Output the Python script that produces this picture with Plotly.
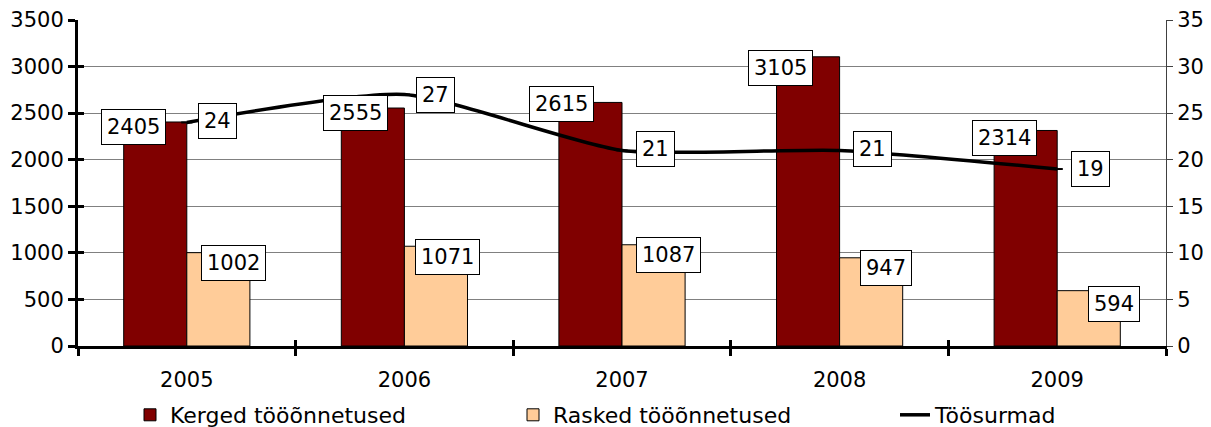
import plotly.graph_objects as go

years = ["2005", "2006", "2007", "2008", "2009"]
kerged = [2405, 2555, 2615, 3105, 2314]
rasked = [1002, 1071, 1087, 947, 594]
surmad = [24, 27, 21, 21, 19]

names = ["Kerged tööõnnetused", "Rasked tööõnnetused", "Töösurmad"]

FONT = "DejaVu Sans"
FS = 21

idx = list(range(len(years)))
bounds = [i - 0.5 for i in idx] + [idx[-1] + 0.5]

# label offsets (pixels, relative to category centre / value)
k_off = [(-53, -5), (-49, -5), (-61, -2), (-59, -11), (-53, -8)]
r_off = [(47, -10), (43, -11), (46, -10), (46, -10), (57, -13)]
s_off = [(31, 1), (31, 0), (33, 1), (33, 1), (33, 0)]

# page has an 8px body margin: figure is sized to fill the rest of the window
W, H = 1203, 419
OFF = 8

fig = go.Figure()
fig.add_trace(go.Bar(x=idx, y=kerged, name=names[0], legend="legend",
                     marker=dict(color="#800000", line=dict(color="black", width=1))))
fig.add_trace(go.Bar(x=idx, y=rasked, name=names[1], legend="legend2",
                     marker=dict(color="#FFCC99", line=dict(color="black", width=1))))
fig.add_trace(go.Scatter(x=idx, y=surmad, name=names[2], yaxis="y2", legend="legend3",
                         mode="lines+markers",
                         line=dict(color="black", width=3.5, shape="spline", smoothing=0.6),
                         marker=dict(symbol="line-ew", size=8, line=dict(color="black", width=2))))
# empty helper trace so the inner tick-mark axes are drawn
fig.add_trace(go.Scatter(x=[], y=[], xaxis="x2", yaxis="y3", showlegend=False, hoverinfo="skip"))

anns = []
def box(x, y, text, dx, dy, yref):
    anns.append(dict(x=x, y=y, xref="x", yref=yref, text=text, showarrow=False,
                     xshift=dx, yshift=dy, xanchor="center", yanchor="middle",
                     bgcolor="white", bordercolor="black", borderwidth=1, borderpad=5,
                     font=dict(family=FONT, size=FS, color="black")))

for i in idx:
    box(i, kerged[i], str(kerged[i]), k_off[i][0], k_off[i][1], "y")
    box(i, rasked[i], str(rasked[i]), r_off[i][0], r_off[i][1], "y")
    box(i, surmad[i], str(surmad[i]), s_off[i][0], s_off[i][1], "y2")

def leg(xpx):
    return dict(orientation="h", x=(xpx - 78) / 1088, xanchor="left",
                y=1 - (415 - OFF) / H, yref="container", yanchor="middle",
                font=dict(family=FONT, size=22, color="black"),
                bgcolor="rgba(0,0,0,0)", borderwidth=0)

fig.update_layout(
    width=W, height=H,
    margin=dict(l=78 - OFF, r=45, t=20 - OFF, b=81, autoexpand=False),
    paper_bgcolor="white", plot_bgcolor="white",
    font=dict(family=FONT, size=FS, color="black"),
    barmode="group", bargap=0.42, bargroupgap=0,
    annotations=anns,
    showlegend=True,
    legend=leg(130), legend2=leg(513), legend3=leg(895),
    xaxis=dict(range=[-0.5, 4.5], tickmode="array", tickvals=idx, ticktext=years,
               showline=True, linecolor="black", linewidth=3,
               ticks="outside", ticklen=13, tickcolor="rgba(0,0,0,0)",
               minor=dict(tickmode="array", tickvals=bounds,
                          ticks="outside", ticklen=7, tickwidth=3, tickcolor="black", showgrid=False),
               showgrid=False, zeroline=False, automargin=False, tickfont=dict(size=FS)),
    xaxis2=dict(range=[-0.5, 4.5], overlaying="x", anchor="y", side="bottom",
                tickmode="array", tickvals=bounds, ticks="inside", ticklen=6, tickwidth=3,
                tickcolor="black", showticklabels=False, showline=False, showgrid=False,
                zeroline=False, automargin=False),
    yaxis=dict(range=[0, 3500], dtick=500, showline=True, linecolor="black", linewidth=3,
               ticks="outside", ticklen=7, tickwidth=3, tickcolor="black",
               showgrid=True, gridcolor="#808080", gridwidth=1, zeroline=False,
               automargin=False, tickfont=dict(size=FS)),
    yaxis3=dict(range=[0, 3500], dtick=500, overlaying="y", anchor="x", side="left",
                ticks="inside", ticklen=6, tickwidth=3, tickcolor="black",
                showticklabels=False, showline=False, showgrid=False, zeroline=False,
                automargin=False),
    yaxis2=dict(range=[0, 35], dtick=5, overlaying="y", side="right", showline=True,
                linecolor="#404040", linewidth=1, ticks="outside", ticklen=6, tickwidth=1,
                tickcolor="#404040", showgrid=False, zeroline=False, automargin=False,
                tickfont=dict(size=FS)),
)

fig.write_html("out.html")
